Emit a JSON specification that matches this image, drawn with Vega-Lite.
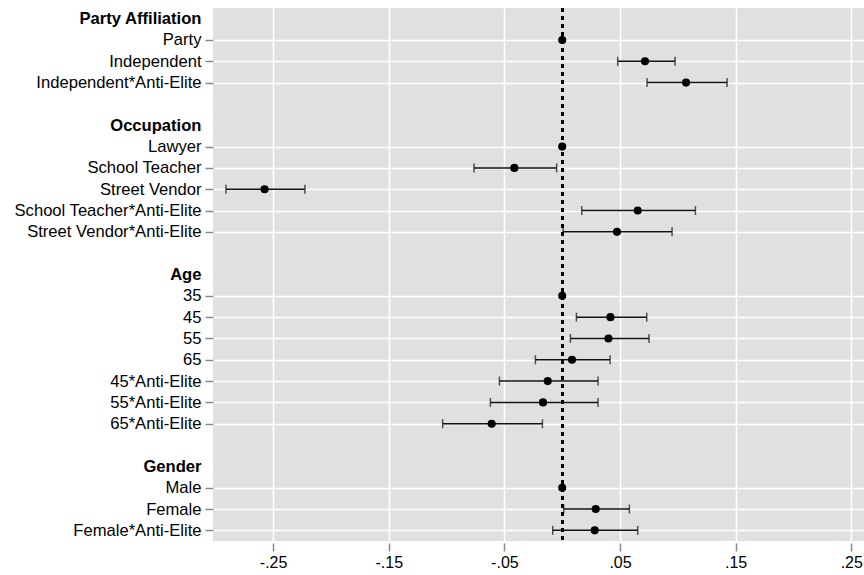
{
  "$schema": "https://vega.github.io/schema/vega-lite/v6.json",
  "autosize": "none",
  "width": 651,
  "height": 533,
  "padding": {"left": 213, "top": 8, "right": 0, "bottom": 34},
  "background": "white",
  "config": {
    "view": {"fill": "#e0e0e0", "stroke": null},
    "font": "Liberation Sans"
  },
  "data": {
    "values": [
      {"term": "Party", "est": 0, "lo": null, "hi": null},
      {"term": "Independent", "est": 0.0716, "lo": 0.048, "hi": 0.0976},
      {"term": "Independent*Anti-Elite", "est": 0.1071, "lo": 0.0734, "hi": 0.1426},
      {"term": "Lawyer", "est": 0, "lo": null, "hi": null},
      {"term": "School Teacher", "est": -0.0414, "lo": -0.0763, "hi": -0.0048},
      {"term": "Street Vendor", "est": -0.2574, "lo": -0.2908, "hi": -0.2225},
      {"term": "School Teacher*Anti-Elite", "est": 0.0653, "lo": 0.0169, "hi": 0.1152},
      {"term": "Street Vendor*Anti-Elite", "est": 0.0474, "lo": 0.0007, "hi": 0.095},
      {"term": "35", "est": 0, "lo": null, "hi": null},
      {"term": "45", "est": 0.0417, "lo": 0.0123, "hi": 0.0731},
      {"term": "55", "est": 0.04, "lo": 0.0071, "hi": 0.0751},
      {"term": "65", "est": 0.0085, "lo": -0.0232, "hi": 0.0414},
      {"term": "45*Anti-Elite", "est": -0.0125, "lo": -0.0543, "hi": 0.031},
      {"term": "55*Anti-Elite", "est": -0.0166, "lo": -0.0621, "hi": 0.031},
      {"term": "65*Anti-Elite", "est": -0.061, "lo": -0.1034, "hi": -0.0171},
      {"term": "Male", "est": 0, "lo": null, "hi": null},
      {"term": "Female", "est": 0.029, "lo": 0.0013, "hi": 0.0581},
      {"term": "Female*Anti-Elite", "est": 0.0281, "lo": -0.0082, "hi": 0.0653}
    ]
  },
  "encoding": {
    "y": {
      "field": "term",
      "type": "nominal",
      "sort": null,
      "title": null,
      "scale": {
        "type": "point",
        "padding": 0.5,
        "domain": ["Party Affiliation", "Party", "Independent", "Independent*Anti-Elite", "_1",
                   "Occupation", "Lawyer", "School Teacher", "Street Vendor", "School Teacher*Anti-Elite", "Street Vendor*Anti-Elite", "_2",
                   "Age", "35", "45", "55", "65", "45*Anti-Elite", "55*Anti-Elite", "65*Anti-Elite", "_3",
                   "Gender", "Male", "Female", "Female*Anti-Elite"]
      },
      "axis": {
        "domain": false,
        "grid": true,
        "gridColor": "white",
        "gridWidth": 1.5,
        "gridOpacity": {"condition": {"test": "indexof(datum.value,'_')==0 || datum.value=='Party Affiliation' || datum.value=='Occupation' || datum.value=='Age' || datum.value=='Gender'", "value": 0}, "value": 1},
        "tickOpacity": {"condition": {"test": "indexof(datum.value,'_')==0 || datum.value=='Party Affiliation' || datum.value=='Occupation' || datum.value=='Age' || datum.value=='Gender'", "value": 0}, "value": 1},
        "labelFontWeight": {"condition": {"test": "datum.value=='Party Affiliation' || datum.value=='Occupation' || datum.value=='Age' || datum.value=='Gender'", "value": "bold"}, "value": "normal"},
        "labelExpr": "indexof(datum.value,'_')==0 ? '' : datum.value",
        "tickColor": "#888888",
        "tickSize": 8,
        "tickWidth": 1.5,
        "labelFontSize": 16.6,
        "labelColor": "black",
        "labelPadding": 4,
        "labelLimit": 0
      }
    }
  },
  "layer": [
    {
      "mark": {"type": "rule", "color": "black", "strokeDash": [4, 4], "strokeWidth": 2},
      "encoding": {"x": {"datum": 0}, "y": null}
    },
    {
      "transform": [{"filter": "isValid(datum.lo)"}],
      "mark": {"type": "rule", "color": "#111111", "strokeWidth": 1.5},
      "encoding": {
        "x": {"field": "lo", "type": "quantitative"},
        "x2": {"field": "hi"}
      }
    },
    {
      "transform": [{"filter": "isValid(datum.lo)"}],
      "mark": {"type": "tick", "color": "#111111", "thickness": 1.5, "size": 9, "orient": "vertical"},
      "encoding": {"x": {"field": "lo", "type": "quantitative"}}
    },
    {
      "transform": [{"filter": "isValid(datum.hi)"}],
      "mark": {"type": "tick", "color": "#111111", "thickness": 1.5, "size": 9, "orient": "vertical"},
      "encoding": {"x": {"field": "hi", "type": "quantitative"}}
    },
    {
      "mark": {"type": "point", "filled": true, "color": "black", "opacity": 1, "size": 66},
      "encoding": {
        "x": {
          "field": "est",
          "type": "quantitative",
          "title": null,
          "scale": {"domain": [-0.302, 0.261], "nice": false, "zero": false},
          "axis": {
            "values": [-0.25, -0.15, -0.05, 0.05, 0.15, 0.25],
            "labelExpr": "replace(replace(format(datum.value, '.2f'), '0.', '.'), '\u2212', '-')",
            "domain": false,
            "grid": true,
            "gridColor": "white",
            "gridWidth": 1.5,
            "tickColor": "#888888",
            "tickSize": 8,
            "tickWidth": 1.5,
            "offset": 2,
            "labelFontSize": 16,
            "labelColor": "black",
            "labelPadding": 3
          }
        }
      }
    }
  ]
}
